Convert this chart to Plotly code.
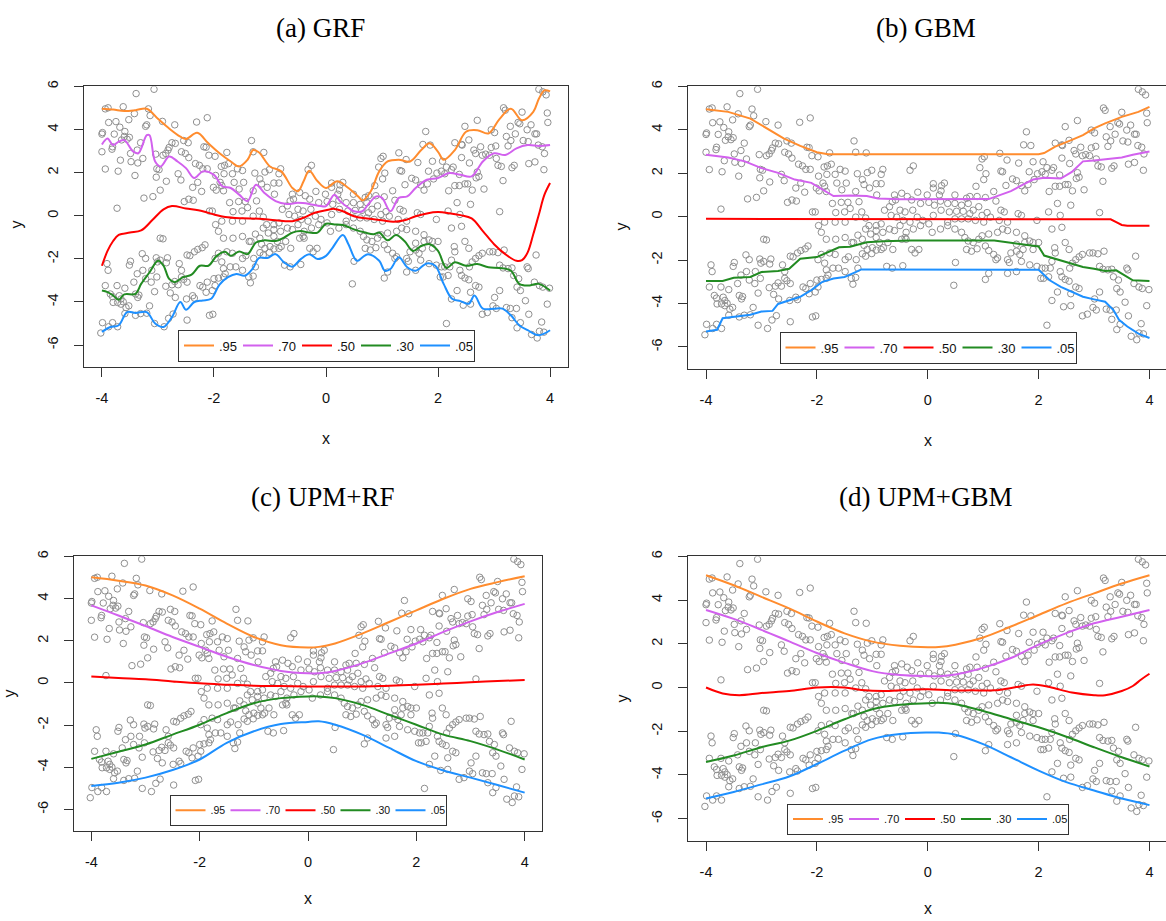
import plotly.graph_objects as go

W, H = 1166, 921

# ---------------- shared scatter data (same sample in all panels) ----------------
s1x = [-3.07,-3.39,-3.89,-3.94,-3.62,-3.17,-3.42,-3.14,-3.88,-3.75,
       -3.52,-2.92,-2.70,-2.31,-2.12,-3.20,-3.22,-3.68,-3.59,-3.99,
       -4.00,-3.78,-3.60,-3.51,-3.65,-3.55,-3.31,-3.81,-3.82,-4.00,
       -3.37,-3.49,-3.04,-2.75,-2.69,-2.54,-2.46,-2.80,-2.82,-2.86,
       -2.91,-2.58,-2.51,-2.45,-2.18,-2.14,-2.09,-3.67,-3.48,-3.36,
       -3.27,-2.33,-2.26,-3.02,-2.98,-3.94,-3.71,-3.41,-2.64,-2.59,
       -3.03,-2.85,-2.20,-2.12,-2.29,-2.38,-2.22,-2.96,-3.09,-3.25,
       -2.53,-2.45,-2.37,-3.73,-2.08]
s1y = [5.87,5.67,5.01,4.96,5.06,4.96,4.74,4.65,4.33,4.37,
       4.46,4.38,4.22,4.35,4.55,4.22,4.15,4.11,3.91,3.86,
       3.79,3.79,3.68,3.64,3.52,3.55,3.39,3.20,3.09,2.97,
       3.05,2.89,2.86,3.39,3.36,3.49,3.39,3.17,3.05,2.89,
       2.81,2.97,2.89,2.70,3.20,3.18,2.81,2.58,2.51,2.45,
       2.66,2.42,2.34,2.18,2.14,2.17,2.07,1.87,1.95,1.66,
       1.79,1.60,2.18,2.18,1.55,1.32,1.13,1.19,0.89,0.82,
       0.66,0.77,0.72,0.35,0.22]

s2x = [-2.96,-2.91,-2.29,-2.21,-2.16,-2.35,-2.43,-2.48,-3.28,-3.22,
       -3.03,-2.96,-2.83,-2.85,-3.01,-3.49,-3.51,-3.91,-3.89,-3.11,
       -2.62,-2.58,-3.27,-3.22,-3.02,-3.37,-3.43,-3.73,-3.94,-3.59,
       -3.85,-3.81,-3.69,-3.66,-3.72,-3.62,-3.80,-3.40,-3.34,-3.36,
       -3.52,-3.57,-3.66,-3.12,-3.06,-2.86,-2.75,-2.70,-2.58,-2.54,
       -2.64,-2.48,-2.25,-2.20,-2.12,-2.14,-2.78,-2.69,-2.49,-2.38,
       -2.35,-3.15,-3.31,-3.40,-3.59,-3.20,-2.73,-2.81,-2.08,-3.99,
       -3.81,-3.88,-3.72,-3.06,-2.89,-2.48,-4.02]
s2y = [-1.04,-1.07,-1.56,-1.48,-1.35,-1.67,-1.85,-1.82,-1.76,-1.98,
       -1.95,-2.06,-1.95,-2.18,-2.14,-2.11,-2.29,-2.22,-2.53,-2.53,
       -2.22,-2.53,-2.53,-2.92,-2.84,-2.69,-3.08,-3.24,-3.24,-3.36,
       -3.63,-3.75,-3.71,-3.86,-4.02,-3.99,-4.02,-3.63,-3.68,-3.79,
       -4.18,-4.26,-4.10,-3.08,-3.52,-3.27,-3.20,-3.05,-2.84,-2.95,
       -3.20,-3.08,-3.24,-3.31,-3.08,-3.55,-3.58,-3.79,-3.86,-3.71,
       -3.82,-4.18,-4.54,-4.62,-4.54,-4.52,-4.56,-4.76,-4.62,-4.96,
       -4.96,-5.15,-5.15,-5.00,-5.15,-4.84,-5.44]

s3x = [-1.33,-1.30,-1.11,-1.77,-1.98,-1.74,-1.81,-1.87,-1.58,-1.49,
       -1.27,-1.09,-1.01,-0.81,-0.84,-0.26,-0.32,-1.97,-1.82,-1.67,
       -1.89,-1.86,-2.01,-1.96,-1.83,-1.64,-1.47,-1.18,-1.15,-0.93,
       -0.84,-1.05,-1.55,-1.30,-1.72,-1.56,-1.44,-1.24,-1.40,-1.19,
       -1.50,-1.66,-2.03,-0.92,-0.60,-0.47,-0.37,-0.18,-0.58,-0.64,
       -0.29,-0.13,-0.01,0.02,0.10,0.10,0.12,0.10,-0.09,-0.19,
       -0.27,-0.41,-0.50,-0.69,-0.78,-0.66,-0.56,-0.44,-0.84,-0.93,
       -1.06,-1.12,-1.30,-1.49,-1.67,-1.86,-1.97,-1.92,-1.83,-1.66,
       -1.49,-1.34,-1.26,-1.12,-1.03,-0.93,-0.81,-0.69,-0.60,-0.41,
       -0.39,-0.50,-0.32,-0.26,-0.13,0.02,0.08,-1.18,-1.15,-1.09,
       -1.00,-0.93,-0.84,-0.80,-0.63,-0.72,-0.87,-0.29,-0.23,-0.16,
       -0.47,-0.39,-0.93,-1.77,-1.67,-1.92,-1.98,-1.86,-1.49,-1.43,
       -1.29,-1.18,-1.12,-1.01,-1.37,-1.83,-1.71,-1.61,-1.80,-1.49,
       -1.26,-0.74,-0.64,-0.45,-2.00,-1.92,-1.83,-1.98,-2.03,-1.38,
       -1.30,-1.35,-2.02]
s3y = [3.49,2.97,2.94,2.94,2.76,2.42,2.34,2.29,2.18,2.10,
       1.98,2.03,2.14,2.18,1.95,2.34,2.14,1.87,1.95,1.95,
       1.55,1.40,1.32,1.19,1.16,1.55,1.55,1.71,1.48,1.52,
       1.52,1.32,1.24,1.16,0.61,0.66,0.66,0.69,0.38,0.22,
       0.22,0.19,0.22,1.00,1.00,1.08,0.93,1.13,0.77,0.69,
       0.77,0.61,1.00,0.66,1.32,1.52,0.53,0.06,-0.17,-0.02,
       0.30,0.22,0.30,0.46,0.30,0.06,-0.02,-0.17,-0.33,-0.41,
       -0.41,-0.06,-0.02,-0.25,-0.25,-0.25,-0.41,-0.72,-1.04,-1.04,
       -0.96,-1.19,-0.85,-0.57,-0.80,-0.64,-0.72,-0.57,-0.64,-0.96,
       -1.04,-0.41,-0.25,-0.57,-0.41,-0.33,-0.72,-1.04,-1.32,-1.51,
       -1.43,-1.54,-1.51,-1.43,-1.51,-1.19,-1.19,-1.51,-1.67,-1.51,
       -1.04,-0.72,-0.96,-1.67,-1.74,-1.74,-1.98,-2.14,-1.98,-1.85,
       -1.98,-1.71,-1.82,-1.70,-1.19,-2.45,-2.37,-2.37,-2.69,-2.53,
       -2.37,-2.29,-2.37,-2.26,-2.92,-2.89,-2.84,-3.24,-3.47,-2.84,
       -2.80,-3.11,-4.57]

s4x = [1.78,1.73,1.86,2.30,1.30,1.43,1.02,0.98,0.94,1.05,
       1.01,1.64,1.90,2.08,2.15,2.27,1.53,1.60,1.41,1.32,
       1.35,1.83,1.98,2.06,2.12,2.24,2.30,2.19,1.92,1.81,
       1.69,1.75,0.30,0.25,0.24,0.21,0.49,0.87,0.76,0.89,
       1.19,1.23,1.04,0.70,0.23,0.36,0.49,0.61,0.73,0.82,
       0.92,0.24,0.39,0.52,0.64,0.76,0.98,1.07,1.32,1.38,
       1.63,1.69,0.36,0.49,0.61,0.73,0.86,1.01,1.13,1.29,
       1.44,1.97,2.34,2.18,2.24,0.23,0.36,0.49,0.61,0.67,
       0.73,0.82,0.92,0.98,1.10,1.26,1.35,1.44,1.60,1.75,
       1.84,1.90,1.75,1.60,1.72,2.00,1.90,0.70,0.79,0.89,
       1.04,1.10,1.19,1.26,1.23,1.44,1.50,1.60,1.66,1.69,
       1.47,1.84,1.97,2.06,2.12,2.24,2.29,2.30,2.21,2.09,
       2.18,2.04,1.60,1.44,1.10,1.04,0.50,0.47,2.15,2.24,
       2.34]
s4y = [3.91,3.31,3.28,3.39,2.92,2.61,2.76,2.66,2.26,1.98,
       1.71,2.47,2.53,2.53,2.26,2.26,1.74,1.66,1.44,2.10,
       2.07,2.07,1.98,2.07,1.95,2.14,1.40,1.16,1.71,1.48,
       1.43,1.19,1.55,1.43,1.19,1.00,1.00,1.40,0.93,0.93,
       1.16,0.72,0.88,0.85,0.72,0.61,0.61,0.53,0.61,0.30,
       0.46,0.30,0.22,0.25,0.25,0.14,0.06,0.19,0.30,0.22,
       0.14,0.06,-0.25,-0.10,-0.10,-0.10,-0.17,-0.25,-0.02,-0.17,
       -0.25,-0.17,0.61,0.22,-0.57,-0.57,-0.41,-0.57,-0.72,-0.96,
       -1.12,-1.19,-1.04,-0.88,-0.80,-0.72,-0.57,-0.64,-0.72,-0.88,
       -1.12,-1.19,-1.19,-1.27,-1.51,-1.19,-1.51,-1.51,-1.59,-1.48,
       -1.35,-1.56,-1.74,-1.90,-1.98,-1.98,-1.67,-1.59,-1.74,-2.06,
       -2.11,-2.22,-2.29,-2.37,-2.37,-2.06,-1.43,-1.67,-2.37,-2.84,
       -2.77,-2.84,-2.53,-2.61,-2.61,-2.89,-2.11,-3.16,-5.00,-3.86,
       -3.47]

s5x = [3.80,3.87,3.93,3.17,3.20,3.50,3.95,2.70,2.48,2.95,
       3.01,3.29,3.43,3.46,3.66,3.59,3.73,3.76,3.96,2.42,
       2.43,2.55,3.22,3.30,3.38,3.52,3.61,3.79,3.86,3.90,
       2.64,2.67,2.76,2.79,2.85,2.92,3.03,2.95,3.25,3.04,
       3.07,3.13,3.32,3.36,3.62,3.73,3.89,2.56,2.42,2.70,
       2.73,2.68,2.38,3.16,2.48,2.53,2.61,2.82,2.38,2.58,
       3.10,2.39,2.42,2.48,2.55,3.75,3.18,3.07,2.98,2.92,
       2.79,2.73,2.67,2.61,2.56,2.39,2.42,2.48,2.55,2.67,
       2.73,3.10,3.16,3.25,3.32,3.35,3.44,3.59,3.61,3.72,
       3.81,3.87,3.99,3.95,3.41,3.47,3.56,3.10,3.01,2.98,
       3.04,3.22,3.29,3.32,3.40,3.41,3.47,3.62,3.67,3.77,
       3.81,3.85,3.89,2.58,2.58,2.45,2.79,2.88]
s5y = [5.87,5.75,5.61,5.01,4.90,4.81,4.77,4.43,4.15,3.99,
       3.86,4.15,4.33,4.27,4.22,3.99,3.80,3.80,4.33,3.31,
       3.28,3.52,3.68,3.49,3.80,3.49,3.44,3.28,3.20,2.89,
       3.05,2.89,3.20,2.81,2.86,2.81,3.24,3.17,3.24,2.66,
       2.34,2.29,2.23,2.34,2.42,2.50,2.14,2.45,2.70,2.03,
       1.82,1.76,1.92,1.63,1.48,1.48,1.19,1.24,1.40,0.53,
       0.19,0.06,-0.49,-1.19,-1.51,-1.82,-1.59,-1.71,-1.67,-1.67,
       -1.74,-1.85,-1.98,-2.14,-2.37,-2.53,-2.77,-2.89,-2.97,-3.24,
       -3.31,-2.29,-2.42,-2.45,-2.42,-2.77,-2.92,-2.37,-2.45,-3.08,
       -3.24,-3.31,-3.36,-4.10,-3.31,-3.47,-3.94,-3.47,-3.79,-4.18,
       -4.30,-4.26,-4.30,-4.73,-4.30,-5.20,-4.96,-4.57,-5.51,-5.67,
       -5.36,-4.93,-5.40,-3.55,-4.10,-4.15,-4.57,-4.49]

pts_x = s1x + s2x + s3x + s4x + s5x
pts_y = s1y + s2y + s3y + s4y + s5y

# ---------------- quantile curves ----------------
QUANTS = ['.95', '.70', '.50', '.30', '.05']
COLORS = ['#FF8C2E', '#D261EE', '#FF0000', '#228B22', '#1E90FF']

# (a) GRF
a95_x = [-4,-3.8,-3.6,-3.4,-3.2,-3.0,-2.8,-2.6,-2.5,-2.3,-2.1,-1.9,-1.7,-1.55,-1.4,-1.3,-1.2,-1.0,-0.8,-0.6,
         -0.5,-0.4,-0.3,-0.15,0.0,0.2,0.4,0.6,0.65,0.8,0.95,1.1,1.3,1.5,1.7,1.85,2.0,2.1,2.3,2.5,
         2.7,2.9,3.1,3.3,3.5,3.7,3.8,3.9,4.0]
a95_y = [4.97,4.93,4.86,4.9,4.97,4.5,4.05,3.67,3.56,3.85,3.36,2.9,2.52,2.29,2.6,3.05,2.95,2.29,2.06,1.29,
         1.14,1.6,2.09,1.6,1.29,1.6,1.29,0.83,0.71,1.14,2.06,2.52,2.6,2.52,3.05,3.36,2.97,2.6,3.05,3.9,
         3.97,3.82,4.5,4.97,4.43,4.82,5.43,5.82,5.77]
a70_x = [-4,-3.9,-3.8,-3.7,-3.6,-3.45,-3.35,-3.2,-3.15,-3.05,-2.95,-2.8,-2.65,-2.5,-2.35,-2.2,-2.0,-1.85,-1.7,-1.55,
         -1.4,-1.25,-1.1,-0.9,-0.7,-0.5,-0.3,-0.1,0.0,0.15,0.25,0.4,0.5,0.65,0.75,0.9,1.0,1.15,1.3,1.45,
         1.6,1.8,2.0,2.2,2.4,2.6,2.8,3.0,3.2,3.4,3.6,3.8,4.0]
a70_y = [3.31,3.59,3.28,3.44,3.51,3.0,2.9,3.74,3.74,2.52,2.29,2.75,2.52,2.21,1.75,2.06,1.9,1.37,1.29,0.98,
         0.68,1.44,1.06,0.68,0.55,0.6,0.55,0.45,0.45,0.98,0.68,0.37,0.21,0.21,0.52,0.9,0.83,0.21,0.83,0.9,
         1.29,1.67,1.75,1.98,1.9,1.83,2.52,2.9,2.82,3.13,3.28,3.24,3.28]
a50_x = [-4,-3.9,-3.8,-3.7,-3.5,-3.3,-3.1,-2.9,-2.75,-2.5,-2.2,-2.0,-1.8,-1.5,-1.2,-0.9,-0.6,-0.4,-0.2,0.0,
         0.15,0.3,0.5,0.7,1.0,1.2,1.4,1.6,1.8,2.0,2.2,2.4,2.6,2.8,3.0,3.2,3.4,3.5,3.6,3.7,
         3.8,3.9,4.0]
a50_y = [-2.32,-1.63,-1.17,-0.89,-0.78,-0.68,-0.2,0.3,0.45,0.34,0.21,0.06,-0.06,-0.12,-0.14,-0.21,-0.25,-0.09,0.14,0.26,
         0.32,0.21,-0.02,-0.12,-0.21,-0.28,-0.21,-0.02,0.11,0.17,0.12,0.03,-0.12,-0.71,-1.32,-1.78,-2.09,-2.06,-1.7,-0.86,
         0.06,0.98,1.52]
a30_x = [-4,-3.9,-3.8,-3.7,-3.6,-3.4,-3.3,-3.15,-3.0,-2.9,-2.8,-2.7,-2.55,-2.4,-2.25,-2.1,-1.95,-1.8,-1.7,-1.55,
         -1.4,-1.25,-1.1,-0.9,-0.75,-0.6,-0.45,-0.3,-0.15,0.0,0.15,0.3,0.5,0.7,0.85,0.95,1.1,1.25,1.4,1.55,
         1.7,1.85,2.0,2.15,2.3,2.5,2.7,2.9,3.1,3.3,3.45,3.6,3.8,4.0]
a30_y = [-3.47,-3.54,-3.7,-3.9,-3.65,-3.62,-3.16,-2.62,-2.09,-2.32,-2.93,-3.08,-2.85,-2.73,-2.32,-2.32,-1.86,-1.67,-1.86,-1.66,
         -1.78,-1.24,-1.14,-1.17,-1.01,-0.78,-0.71,-0.78,-0.78,-0.37,-0.4,-0.43,-0.63,-0.78,-0.86,-0.78,-1.14,-0.89,-1.17,-1.63,
         -1.4,-1.32,-1.63,-2.42,-2.16,-2.32,-2.24,-2.39,-2.42,-2.55,-3.16,-3.24,-3.16,-3.47]
a05_x = [-4,-3.85,-3.7,-3.55,-3.4,-3.2,-3.05,-2.9,-2.75,-2.6,-2.5,-2.35,-2.2,-2.05,-1.9,-1.75,-1.6,-1.45,-1.3,-1.2,
         -1.05,-0.9,-0.75,-0.6,-0.45,-0.3,-0.15,0.0,0.1,0.3,0.4,0.55,0.65,0.75,0.95,1.05,1.15,1.3,1.45,1.6,
         1.8,1.95,2.1,2.25,2.4,2.55,2.65,2.8,3.0,3.15,3.3,3.45,3.6,3.8,4.0]
a05_y = [-5.39,-5.16,-5.08,-4.47,-4.51,-4.47,-5.0,-5.16,-4.7,-4.0,-4.36,-4.0,-3.93,-3.85,-3.19,-2.85,-2.7,-2.78,-2.42,-1.96,
         -1.96,-1.78,-2.16,-2.36,-2.01,-1.78,-2.01,-1.86,-1.55,-0.89,-1.32,-2.09,-1.93,-1.78,-2.09,-2.55,-2.47,-1.93,-2.39,-2.55,
         -2.21,-2.32,-3.16,-3.85,-3.96,-4.08,-3.7,-4.31,-4.31,-4.31,-4.62,-5.08,-5.31,-5.54,-5.31]

# (b) GBM
b95_x = [-4,-3.6,-3.2,-2.9,-2.6,-2.3,-2.0,-1.8,2.0,2.1,2.3,2.6,2.8,3.0,3.2,3.5,3.8,4.0]
b95_y = [4.95,4.83,4.52,4.07,3.61,3.26,2.97,2.88,2.88,2.93,3.23,3.54,3.76,4.07,4.3,4.6,4.83,5.06]
b70_x = [-4,-3.6,-3.3,-3.0,-2.7,-2.4,-2.1,-1.9,-1.7,-1.4,-1.1,-0.9,-0.5,1.1,1.3,1.5,1.7,1.9,2.1,2.4,
         2.6,2.8,3.0,3.2,3.5,3.7,4.0]
b70_y = [2.85,2.73,2.55,2.24,2.02,1.71,1.56,1.25,0.95,0.98,0.95,0.84,0.8,0.81,0.99,1.18,1.45,1.71,1.79,1.76,
         2.06,2.55,2.59,2.65,2.73,2.85,3.0]
b50_x = [-4,3.2,3.3,3.4,3.5,3.6,4.0]
b50_y = [-0.1,-0.1,-0.12,-0.25,-0.38,-0.42,-0.42]
b30_x = [-4,-3.7,-3.5,-3.2,-3.0,-2.7,-2.5,-2.3,-2.0,-1.8,-1.6,-1.4,-1.1,-0.8,-0.3,1.2,1.5,1.8,2.0,2.1,
         2.3,2.6,2.8,3.0,3.2,3.4,3.5,3.7,4.0]
b30_y = [-2.96,-2.96,-2.81,-2.78,-2.55,-2.5,-2.4,-1.94,-1.86,-1.64,-1.41,-1.38,-1.18,-1.13,-1.1,-1.1,-1.2,-1.28,-1.37,-1.79,
         -1.94,-2.17,-2.32,-2.4,-2.5,-2.47,-2.62,-2.93,-2.96]
b05_x = [-4,-3.8,-3.7,-3.4,-3.2,-3.0,-2.8,-2.7,-2.5,-2.3,-2.1,-1.9,-1.7,-1.5,-1.3,-1.2,2.0,2.2,2.4,2.6,
         2.8,3.0,3.2,3.35,3.45,3.6,3.8,4.0]
b05_y = [-5.29,-5.21,-4.68,-4.57,-4.52,-4.37,-4.34,-4.02,-3.84,-3.69,-3.38,-3.0,-2.85,-2.78,-2.55,-2.43,-2.45,-2.93,-3.23,-3.46,
         -3.69,-3.81,-3.92,-4.3,-4.75,-5.06,-5.39,-5.59]

# (c) UPM+RF and (d) UPM+GBM
cd_x = [-4,-3.5,-3,-2.5,-2,-1.5,-1,-0.5,0,0.2,0.5,1,1.5,2,2.5,3,3.5,4]
c95_y = [5.01,4.85,4.62,4.15,3.52,2.81,2.18,1.79,1.68,1.71,1.87,2.34,2.89,3.44,3.99,4.46,4.78,5.06]
c70_y = [3.68,3.2,2.7,2.18,1.71,1.24,0.85,0.57,0.46,0.46,0.57,0.93,1.4,1.87,2.42,2.92,3.36,3.75]
c50_y = [0.3,0.23,0.17,0.07,-0.02,-0.08,-0.13,-0.15,-0.17,-0.17,-0.17,-0.17,-0.13,-0.09,-0.03,0.03,0.09,0.14]
c30_y = [-3.6,-3.26,-2.92,-2.45,-1.98,-1.43,-0.96,-0.72,-0.64,-0.64,-0.72,-1.04,-1.51,-1.98,-2.45,-2.76,-3.16,-3.63]
c05_y = [-4.88,-4.73,-4.49,-4.13,-3.63,-2.84,-2.29,-1.95,-1.85,-1.82,-1.98,-2.45,-3.08,-3.71,-4.15,-4.49,-4.84,-5.2]

d95_y = [5.14,4.68,4.15,3.62,3.02,2.48,2.1,1.91,1.84,1.85,1.96,2.29,2.79,3.32,3.85,4.31,4.76,5.14]
d70_y = [3.55,3.14,2.64,2.11,1.58,1.13,0.75,0.57,0.52,0.52,0.6,0.9,1.35,1.96,2.49,2.94,3.24,3.55]
d50_x = [-4,-3.7,-3.4,-3,-2.5,-2,-1.5,-1.2,-0.8,-0.4,0,0.4,0.8,1.2,1.6,1.9,2.2,2.6,3,3.2,3.5,3.7,3.85,4]
d50_y = [0.0,-0.27,-0.35,-0.25,-0.16,0.0,0.0,-0.11,-0.16,-0.11,-0.08,-0.13,-0.13,-0.13,0.02,0.14,0.02,-0.23,-0.35,-0.35,
         -0.16,0.07,0.37,0.63]
d30_y = [-3.41,-3.11,-2.73,-2.43,-1.98,-1.45,-0.99,-0.79,-0.72,-0.7,-0.76,-1.07,-1.45,-1.82,-2.25,-2.73,-3.19,-3.61]
d05_y = [-5.08,-4.78,-4.43,-4.07,-3.5,-2.89,-2.36,-2.13,-2.06,-2.06,-2.16,-2.59,-3.19,-3.8,-4.33,-4.71,-5.08,-5.38]

TITLES = ['(a) GRF', '(b) GBM', '(c) UPM+RF', '(d) UPM+GBM']
X_TICKS = [-4, -2, 0, 2, 4]
Y_TICKS = [-6, -4, -2, 0, 2, 4, 6]

curves = [
    [(a95_x, a95_y), (a70_x, a70_y), (a50_x, a50_y), (a30_x, a30_y), (a05_x, a05_y)],
    [(b95_x, b95_y), (b70_x, b70_y), (b50_x, b50_y), (b30_x, b30_y), (b05_x, b05_y)],
    [(cd_x, c95_y), (cd_x, c70_y), (cd_x, c50_y), (cd_x, c30_y), (cd_x, c05_y)],
    [(cd_x, d95_y), (cd_x, d70_y), (d50_x, d50_y), (cd_x, d30_y), (cd_x, d05_y)],
]

# ---------------- layout geometry (pixels) ----------------
panels = [
    dict(l=84, r=568, t=81, b=363, xr=[-4.32, 4.32], right_line=True, shape='spline',
         title=(320, 22), xlab=(326, 435), ylab=(17, 220),
         leg=(326.5, 358), legfont=13, legw=14),
    dict(l=688, r=1166, t=81, b=365, xr=[-4.325, 4.298], right_line=False, shape='linear',
         title=(926, 22), xlab=(928, 437), ylab=(622, 222),
         leg=(928, 360), legfont=13, legw=14),
    dict(l=74, r=542, t=554, b=830, xr=[-4.32, 4.32], right_line=True, shape='spline',
         title=(323, 494), xlab=(308, 898), ylab=(9, 692),
         leg=(308, 825), legfont=10.5, legw=10),
    dict(l=688, r=1166, t=554, b=840, xr=[-4.325, 4.298], right_line=False, shape='spline',
         title=(926, 494), xlab=(928, 908), ylab=(622, 697),
         leg=(928, 834), legfont=11, legw=11),
]

fig = go.Figure()
layout = dict(width=W, height=H, margin=dict(l=0, r=0, t=0, b=0), autosize=False,
              paper_bgcolor='white', plot_bgcolor='white', annotations=[])

TICKFONT = dict(family='Liberation Sans, Arial, sans-serif', size=14.5, color='#111111')
LINECOL = '#333333'

for i, p in enumerate(panels):
    sfx = '' if i == 0 else str(i + 1)
    xa, ya = 'x' + sfx, 'y' + sfx
    leg = 'legend' if i == 0 else 'legend' + sfx

    fig.add_trace(go.Scatter(
        x=pts_x, y=pts_y, mode='markers', xaxis=xa, yaxis=ya, showlegend=False,
        hoverinfo='skip',
        marker=dict(symbol='circle-open', size=6.5, color='#8f8f8f', line=dict(width=1))))
    for q, col, (cx, cy) in zip(QUANTS, COLORS, curves[i]):
        fig.add_trace(go.Scatter(
            x=cx, y=cy, mode='lines', name=q, xaxis=xa, yaxis=ya, legend=leg,
            line=dict(color=col, width=2, shape=p['shape'])))

    layout['xaxis' + sfx] = dict(
        domain=[p['l'] / W, p['r'] / W], range=p['xr'], anchor=ya,
        showgrid=False, zeroline=False, showline=True, linecolor=LINECOL, linewidth=1,
        mirror=True, ticks='outside', ticklen=9, tickwidth=1, tickcolor=LINECOL,
        tickvals=X_TICKS, ticktext=[str(v) for v in X_TICKS], tickfont=TICKFONT,
        ticklabelstandoff=9)
    layout['yaxis' + sfx] = dict(
        domain=[1 - p['b'] / H, 1 - p['t'] / H], range=[-7, 6], anchor=xa,
        showgrid=False, zeroline=False, showline=True, linecolor=LINECOL, linewidth=1,
        mirror=p['right_line'], ticks='outside', ticklen=9, tickwidth=1, tickcolor=LINECOL,
        tickvals=Y_TICKS, ticktext=[str(v) for v in Y_TICKS], tickfont=TICKFONT,
        tickangle=-90, ticklabelstandoff=10)
    layout[leg] = dict(
        orientation='h', x=p['leg'][0] / W, y=1 - p['leg'][1] / H,
        xanchor='center', yanchor='bottom', bgcolor='white',
        bordercolor=LINECOL, borderwidth=1, itemwidth=30,
        entrywidth=p['legw'], entrywidthmode='pixels',
        font=dict(family='Liberation Sans, Arial, sans-serif', size=p['legfont'], color='#111111'))

    layout['annotations'] += [
        dict(text=TITLES[i], x=p['title'][0] / W, y=1 - p['title'][1] / H,
             xref='paper', yref='paper', xanchor='center', yanchor='middle', showarrow=False,
             font=dict(family='Liberation Serif, Times New Roman, serif', size=27, color='#000000')),
        dict(text='x', x=p['xlab'][0] / W, y=1 - p['xlab'][1] / H,
             xref='paper', yref='paper', xanchor='center', yanchor='middle', showarrow=False,
             font=dict(family='Liberation Sans, Arial, sans-serif', size=16, color='#111111')),
        dict(text='y', x=p['ylab'][0] / W, y=1 - p['ylab'][1] / H, textangle=-90,
             xref='paper', yref='paper', xanchor='center', yanchor='middle', showarrow=False,
             font=dict(family='Liberation Sans, Arial, sans-serif', size=16, color='#111111')),
    ]

fig.update_layout(**layout)
fig.write_html('out.html', config={'displayModeBar': False},
               post_script="document.body.style.margin='0';document.body.style.overflow='hidden';")
